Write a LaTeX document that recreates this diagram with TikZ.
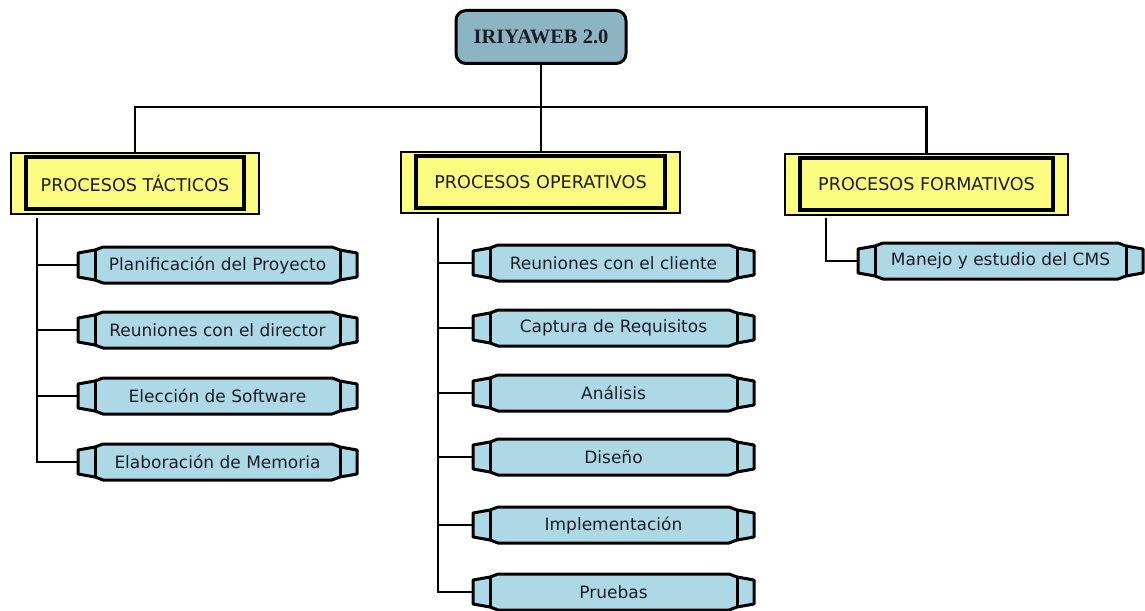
\documentclass[tikz,border=0pt]{standalone}
\usepackage{fontspec}
\newfontfamily\boxfont{DejaVu Sans}
\newfontfamily\rootfont{Liberation Serif}
\definecolor{rootfill}{RGB}{140,180,194}
\definecolor{catfill}{RGB}{252,252,128}
\definecolor{kidfill}{RGB}{173,216,230}
\definecolor{txt}{RGB}{30,28,40}
\newcommand\kidbox[5]{%
  \draw[kidline, fill=kidfill] (#2,#4-12) -- (#2+17,#4-15) -- (#2+25,#4-18) -- (#3-25,#4-18) -- (#3-17,#4-15) -- (#3,#4-12) -- (#3,#4+12) -- (#3-17,#4+15) -- (#3-25,#4+18) -- (#2+25,#4+18) -- (#2+17,#4+15) -- (#2,#4+12) -- cycle;
  \draw[kidline] (#2+17,#4-15) -- (#2+17,#4+15) (#3-17,#4-15) -- (#3-17,#4+15);
  \node[kidtext, minimum width={#3-#2}] (#1) at ({(#2+#3)/2},#4) {#5};
}
\begin{document}
\begin{tikzpicture}[x=1pt,y=-1pt,
  conn/.style={line width=2.4pt, black},
  kidline/.style={line width=3pt, black, line join=round},
  kidtext/.style={inner sep=0pt, outer sep=0pt, minimum height=36pt, text=txt, font=\boxfont\fontsize{17}{20}\selectfont},
  cat/.style={draw, line width=2.2pt, fill=catfill, inner sep=0pt, outer sep=0pt, text=txt, font=\boxfont\fontsize{17.6}{21}\selectfont},
  inner/.style={line width=3.4pt, black}]
\useasboundingbox (0,0) rectangle (1145,610);
\fill[white] (0,0) rectangle (1145,610);

\node[draw, line width=3pt, rounded corners=10pt, fill=rootfill, minimum width=170pt, minimum height=53pt, inner sep=0pt, outer sep=0pt, text=txt, font=\rootfont\bfseries\fontsize{20.5}{24}\selectfont] (root) at (541,37) {IRIYAWEB 2.0};

\node[cat, minimum width=248pt, minimum height=61pt] (tac) at (135,183.5) {PROCESOS TÁCTICOS};
\node[cat, minimum width=279pt, minimum height=61pt] (ope) at (540.5,182.5) {PROCESOS OPERATIVOS};
\node[cat, minimum width=283pt, minimum height=61pt] (for) at (926.5,184.5) {PROCESOS FORMATIVOS};
\foreach \n in {tac,ope,for}{
  \draw[inner] ([shift={(15,4)}]\n.north west) rectangle ([shift={(-15,-5)}]\n.south east);
}

\coordinate (bus) at (540,107);
\draw[conn] (root.south) -- (root.south |- ope.north);
\draw[conn] (tac.north) |- (bus) -| (for.north);

\kidbox{k1}{78}{357}{265}{Planificación del Proyecto}
\kidbox{k2}{78}{357}{330}{Reuniones con el director}
\kidbox{k3}{78}{357}{396}{Elección de Software}
\kidbox{k4}{78}{357}{462}{Elaboración de Memoria}

\kidbox{m1}{473}{754}{263}{Reuniones con el cliente}
\kidbox{m2}{473}{754}{328}{Captura de Requisitos}
\kidbox{m3}{473}{754}{393}{Análisis}
\kidbox{m4}{473}{754}{457}{Diseño}
\kidbox{m5}{473}{754}{525}{Implementación}
\kidbox{m6}{473}{754}{592}{Pruebas}

\kidbox{f1}{858}{1143}{261}{Manejo y estudio del CMS}

\coordinate (tstem) at (37,218);
\coordinate (ostem) at (438,218);
\coordinate (fstem) at (826,218);
\foreach \k in {k1,k2,k3,k4}{\draw[conn] (tstem) |- (\k.west);}
\foreach \k in {m1,m2,m3,m4,m5,m6}{\draw[conn] (ostem) |- (\k.west);}
\draw[conn] (fstem) |- (f1.west);
\end{tikzpicture}
\end{document}
